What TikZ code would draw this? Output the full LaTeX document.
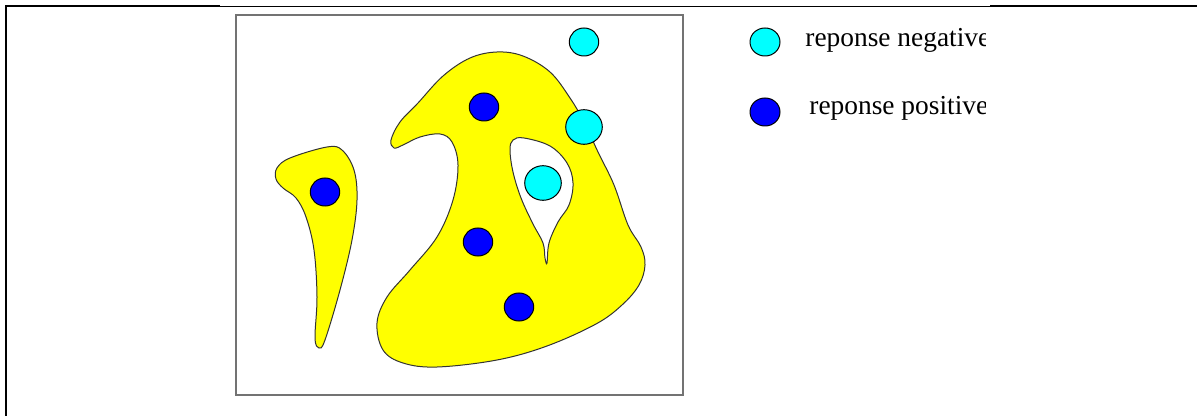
\documentclass[tikz,border=0pt]{standalone}
\usepackage{fontspec}
\setmainfont{Liberation Serif}
\usetikzlibrary{shapes.geometric,positioning}
\definecolor{negfill}{RGB}{0,255,255}
\definecolor{posfill}{RGB}{0,0,255}
\definecolor{zonefill}{RGB}{255,255,0}

\begin{document}
\begin{tikzpicture}[
  x=0.5pt, y=-0.5pt,
  negdot/.style={draw, ellipse, fill=negfill, inner sep=0pt, minimum width=14.7pt,
    minimum height=14pt, line width=0.5pt},
  negbig/.style={negdot, minimum width=18.3pt, minimum height=17.3pt},
  posdot/.style={negdot, fill=posfill},
  zone/.style={draw=black!80, fill=zonefill, line width=0.5pt, even odd rule},
  lbl/.style={anchor=base west, inner sep=0pt, font=\fontsize{13.7}{16}\selectfont}
]
\useasboundingbox (0,0) rectangle (1197,416);
% cell frame
\draw[line width=1pt] (6,416) -- (6,6.5) -- (220,6.5);
\draw[line width=0.5pt] (220,6.5) -- (990,6.5);
\draw[line width=1pt] (990,6.5) -- (1197,6.5);
% picture box
\draw[black!55, line width=0.9pt] (236,15) rectangle (683,395);
% yellow zones
\draw[zone] plot[smooth cycle, tension=0.6] coordinates {
  (277,168) (290,158) (327,147) (342,150) (354,170) (357,200) (352,240)
  (340,290) (325,340) (319,348) (315,338) (317,297) (314,250) (306,217)
  (296,198) (283,188) (276,179)};
\draw[zone] plot[smooth cycle, tension=0.6] coordinates {
  (391,140) (400,122) (418,103) (443,76) (470,58) (497,52) (523,56)
  (550,72) (570,98) (584,122) (598,152) (614,185) (628,225) (641,247)
  (645,265) (639,285) (622,305) (596,324) (547,346) (497,360) (437,367)
  (403,363) (383,350) (377,323) (387,297) (410,270) (437,237) (453,200)
  (458,165) (452,142) (440,134) (420,137) (403,145) (394,148)}
  plot[smooth cycle, tension=0.6] coordinates {
  (513,140) (524,138) (550,146) (567,163) (573,183) (569,205) (558,222)
  (549,243) (547,263) (545,258) (543,243) (533,224) (521,198) (513,172)
  (510,150)};
% answers
\node[negdot] (neg1) at (584,42) {};
\node[negbig] (neg2) at (584,127) {};
\node[negbig] (neg3) at (543,183) {};
\node[posdot] (pos1) at (325,192) {};
\node[posdot] (pos2) at (484,107) {};
\node[posdot] (pos3) at (478,242) {};
\node[posdot] (pos4) at (519,307) {};
% legend
\node[negdot, minimum width=15pt] (negkey) at (765,42) {};
\node[posdot, minimum width=15pt] (poskey) at (765,112) {};
\begin{scope}
\clip (700,10) rectangle (985,150);
\node[lbl] (neglbl) at (805,47) {reponse negative};
\node[lbl] (poslbl) at (809,115) {reponse positive};
\end{scope}
\end{tikzpicture}
\end{document}
